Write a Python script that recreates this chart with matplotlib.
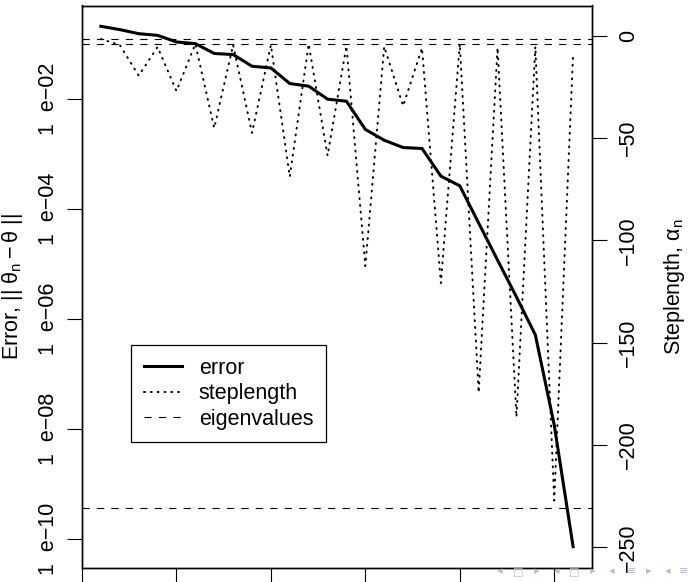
import numpy as np
import matplotlib
matplotlib.use("Agg")
import matplotlib.pyplot as plt
from matplotlib.ticker import FixedLocator, FixedFormatter

plt.rcParams['font.family'] = ['Liberation Sans', 'DejaVu Sans']
plt.rcParams['mathtext.fontset'] = 'custom'
plt.rcParams['mathtext.rm'] = 'Liberation Sans'
plt.rcParams['mathtext.it'] = 'Liberation Sans'
plt.rcParams['mathtext.sf'] = 'Liberation Sans'

# data
iters = np.arange(1, 27)
error = [0.2094, 0.1825, 0.1539, 0.1435, 0.1088, 0.1014, 0.0672, 0.0642, 0.0394, 0.0366,
         0.0191, 0.0171, 0.00993, 0.00910, 2.80e-3, 1.78e-3, 1.31e-3, 1.26e-3,
         3.96e-4, 2.64e-4, 5.55e-5, 1.18e-5, 2.52e-6, 5.16e-7, 1.19e-8, 7.28e-11]
steplength = [-1.5, -4.4, -19.4, -5.4, -26.9, -3.9, -45.0, -4.4, -47.4, -4.4,
              -68.8, -3.9, -58.5, -4.9, -112.5, -5.2, -34.2, -5.9, -120.8, -3.9,
              -174.4, -5.7, -186.3, -5.2, -227.2, -8.8]
eigenvalues = [-1.5, -3.7, -230.6]

err_ticks = [1e-2, 1e-4, 1e-6, 1e-8, 1e-10]
err_ticklabels = ['1  e\u221202', '1  e\u221204', '1  e\u221206', '1  e\u221208', '1  e\u221210']
step_ticks = [0, -50, -100, -150, -200, -250]
x_ticks = [0, 5, 10, 15, 20, 25]

fs = 15.5
W, H = 689, 582
fig = plt.figure(figsize=(W / 100, H / 100), dpi=100)
ax = fig.add_axes([82 / W, (H - 567.5) / H, (592 - 82) / W, (567.5 - 5.5) / H])

# error on log scale, left axis
l1, = ax.plot(iters, error, color='k', lw=2.2, solid_joinstyle='miter')
ax.set_yscale('log')
lo, hi = np.log10(min(error)), np.log10(max(error))
pad = 0.04 * (hi - lo)
ax.set_ylim(10 ** (lo - pad), 10 ** (hi + pad))
ax.set_xlim(0, 27)
ax.yaxis.set_major_locator(FixedLocator(err_ticks))
ax.yaxis.set_major_formatter(FixedFormatter(err_ticklabels))
ax.yaxis.set_minor_locator(FixedLocator([]))
ax.set_xticks(x_ticks)
ax.set_xticklabels([''] * len(x_ticks))
ax.tick_params(axis='y', direction='out', length=10.5, width=0.8, pad=6,
               labelsize=fs, labelrotation=90)
for t in ax.get_yticklabels():
    t.set_va('center')
ax.tick_params(axis='x', direction='out', length=14, width=0.8)
ax.set_ylabel(r'Error, || $\theta_n - \theta$ ||', fontsize=fs)
ax.yaxis.set_label_coords(-0.111, 0.5)

# steplength, right axis
ax2 = ax.twinx()
l2, = ax2.plot(iters, steplength, color='k', lw=1.4,
               linestyle=(0, (0.5, 3.0)), dash_capstyle='round')
for ev in eigenvalues:
    l3 = ax2.axhline(ev, color='k', lw=0.8, linestyle=(0, (6.5, 6.5)))
ax2.set_ylim(-259.9, 14.9)
ax2.set_yticks(step_ticks)
ax2.tick_params(axis='y', direction='out', length=11, width=0.8, pad=8,
                labelsize=fs, labelrotation=90)
for t in ax2.get_yticklabels():
    t.set_va('center')
ax2.set_ylabel(r'Steplength, $\alpha_n$', fontsize=fs)
ax2.yaxis.set_label_coords(1.137, 0.5)

for a in (ax, ax2):
    for s in a.spines.values():
        s.set_linewidth(1.0)

leg = ax.legend([l1, l2, l3], ['error', 'steplength', 'eigenvalues'],
                loc='upper left', bbox_to_anchor=(131 / W, 1 - 345 / H),
                bbox_transform=fig.transFigure, borderaxespad=0,
                fontsize=fs, fancybox=False, framealpha=1, edgecolor='k',
                handlelength=1.75, handletextpad=0.8, borderpad=0.6,
                labelspacing=0.2)
leg.get_frame().set_linewidth(0.9)
leg.set_zorder(5)

# beamer navigation symbols
nav = ['\u25c2', '\u25a1', '\u25b8', '\u25c2', '\u25a1', '\u25b8',
       '\u25c2', '\u2261', '\u25b8', '\u25c2', '\u2261']
nav_x = [500, 518, 537, 557, 574, 593, 612, 632, 649, 668, 684]
for s, x in zip(nav, nav_x):
    fig.text(x / W, 1 - 571 / H, s, fontsize=8, color='#b5badf',
             family='DejaVu Sans', ha='center', va='center', zorder=0)

fig.savefig('out.png', dpi=100)
